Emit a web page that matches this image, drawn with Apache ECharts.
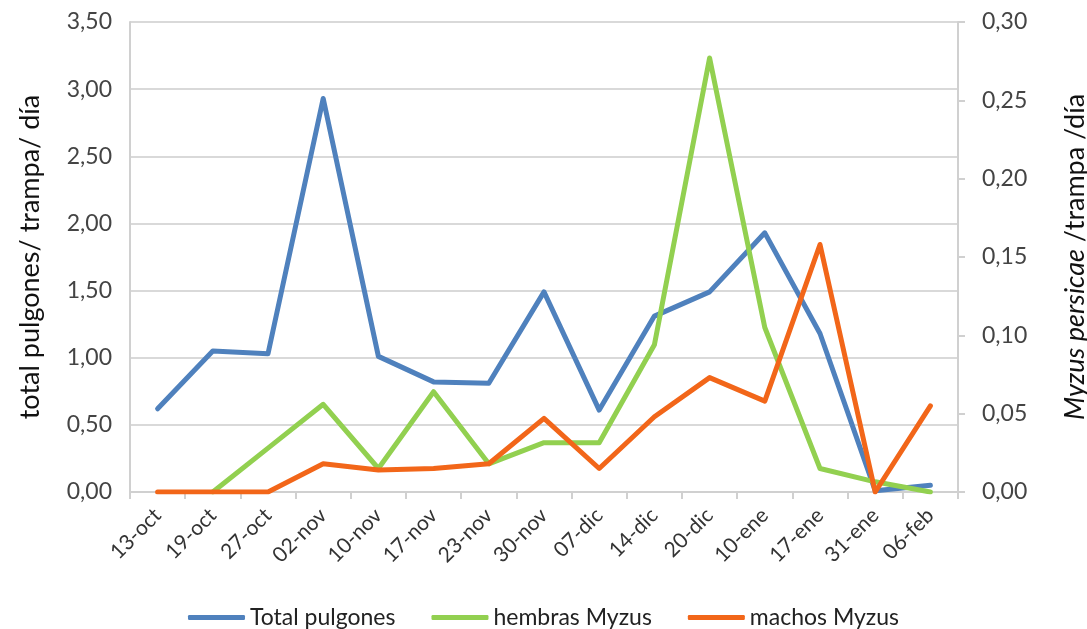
<!DOCTYPE html>
<html>
<head>
<meta charset="utf-8">
<script src="https://cdn.jsdelivr.net/npm/echarts@6/dist/echarts.min.js"></script>
<style>html,body{margin:0;padding:0;background:#fff}#c{width:1087px;height:629px}</style>
</head>
<body>
<div id="c"></div>
<script>
const categories = ['13-oct','19-oct','27-oct','02-nov','10-nov','17-nov','23-nov','30-nov','07-dic','14-dic','20-dic','10-ene','17-ene','31-ene','06-feb'];
const totalPulgones = [0.62, 1.05, 1.03, 2.93, 1.01, 0.82, 0.81, 1.49, 0.61, 1.31, 1.49, 1.93, 1.18, 0.01, 0.05];
const hembrasMyzus = [null, 0, 0.028, 0.056, 0.015, 0.064, 0.018, 0.0315, 0.0315, 0.094, 0.277, 0.105, 0.015, 0.0065, 0];
const machosMyzus = [0, 0, 0, 0.018, 0.014, 0.015, 0.018, 0.047, 0.015, 0.048, 0.073, 0.058, 0.158, 0, 0.055];
const leftTicks = {min: 0, max: 3.5, interval: 0.5};
const rightTicks = {min: 0, max: 0.30, interval: 0.05};

const FONT = 'Lato, "Open Sans", sans-serif';
const chart = echarts.init(document.getElementById('c'));
const fmt = d => v => v.toFixed(d).replace('.', ',');
chart.setOption({
  animation: false,
  textStyle: {fontFamily: FONT},
  grid: {left: 130, right: 129, top: 22, bottom: 137, containLabel: false, outerBoundsMode: 'none'},
  legend: {
    top: 601, left: 'center',
    itemWidth: 57, itemHeight: 5, itemGap: 36,
    icon: 'roundRect',
    textStyle: {fontFamily: FONT, fontSize: 23, color: '#222'},
    data: ['Total pulgones', 'hembras Myzus', 'machos Myzus']
  },
  xAxis: {
    type: 'category',
    data: categories,
    boundaryGap: true,
    axisLine: {lineStyle: {color: '#d0d0d0', width: 2}},
    axisTick: {show: true, alignWithLabel: false, length: 7, lineStyle: {color: '#d0d0d0', width: 2}},
    axisLabel: {rotate: 45, fontSize: 21, color: '#333', fontFamily: FONT, margin: 20, interval: 0}
  },
  yAxis: [{
    type: 'value',
    min: leftTicks.min, max: leftTicks.max, interval: leftTicks.interval,
    name: 'total pulgones/ trampa/ día',
    nameLocation: 'middle', nameRotate: 90, nameGap: 86,
    nameTextStyle: {fontSize: 27, color: '#111', fontFamily: FONT},
    axisLine: {show: true, lineStyle: {color: '#d0d0d0', width: 2}},
    axisTick: {show: false},
    splitLine: {show: true, lineStyle: {color: '#d9d9d9', width: 2}},
    axisLabel: {formatter: fmt(2), fontSize: 23, color: '#444', fontFamily: FONT, margin: 18}
  }, {
    type: 'value',
    min: rightTicks.min, max: rightTicks.max, interval: rightTicks.interval,
    position: 'right',
    name: '{i|Myzus persicae} /trampa /día',
    nameLocation: 'middle', nameRotate: 90, nameGap: 104,
    nameTextStyle: {fontSize: 27, color: '#111', fontFamily: FONT,
      rich: {i: {fontStyle: 'italic', fontSize: 27, color: '#111', fontFamily: FONT}}},
    axisLine: {show: true, lineStyle: {color: '#d0d0d0', width: 2}},
    axisTick: {show: true, inside: false, length: 7, lineStyle: {color: '#d0d0d0', width: 2}},
    splitLine: {show: false},
    axisLabel: {formatter: fmt(2), fontSize: 23, color: '#444', fontFamily: FONT, margin: 24}
  }],
  series: [{
    name: 'Total pulgones', type: 'line', yAxisIndex: 0, data: totalPulgones,
    symbol: 'none', lineStyle: {width: 5, color: '#4f81bd', cap: 'round', join: 'round'},
    itemStyle: {color: '#4f81bd'}, z: 2
  }, {
    name: 'hembras Myzus', type: 'line', yAxisIndex: 1, data: hembrasMyzus,
    symbol: 'none', lineStyle: {width: 5, color: '#92d050', cap: 'round', join: 'round'},
    itemStyle: {color: '#92d050'}, z: 3
  }, {
    name: 'machos Myzus', type: 'line', yAxisIndex: 1, data: machosMyzus,
    symbol: 'none', lineStyle: {width: 5, color: '#f26619', cap: 'round', join: 'round'},
    itemStyle: {color: '#f26619'}, z: 4
  }]
});
</script>
</body>
</html>
